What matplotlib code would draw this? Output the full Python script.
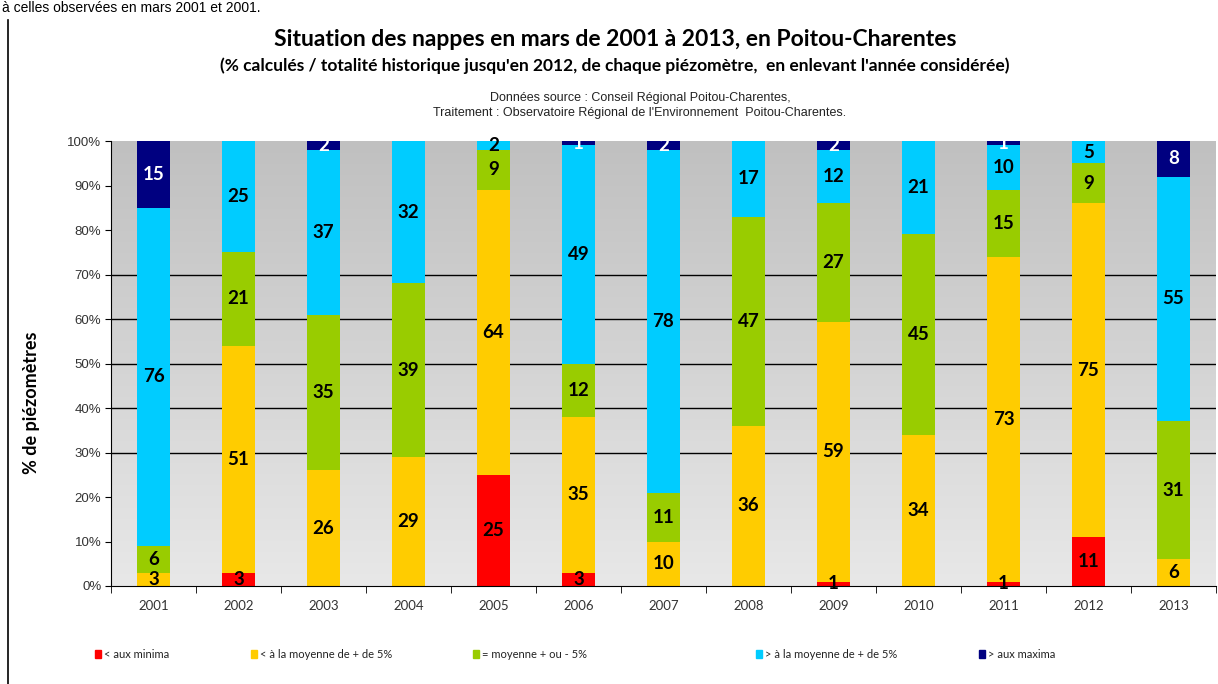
import numpy as np
import matplotlib
matplotlib.use("Agg")
import matplotlib.pyplot as plt
from matplotlib.patches import Rectangle
from matplotlib.colors import LinearSegmentedColormap

years = ["2001", "2002", "2003", "2004", "2005", "2006", "2007",
         "2008", "2009", "2010", "2011", "2012", "2013"]
minima = [0, 3, 0, 0, 25, 3, 0, 0, 1, 0, 1, 11, 0]
sous_moy = [3, 51, 26, 29, 64, 35, 10, 36, 59, 34, 73, 75, 6]
moyenne = [6, 21, 35, 39, 9, 12, 11, 47, 27, 45, 15, 9, 31]
sur_moy = [76, 25, 37, 32, 2, 49, 78, 17, 12, 21, 10, 5, 55]
maxima = [15, 0, 2, 0, 0, 1, 2, 0, 2, 0, 1, 0, 8]

series_labels = ["< aux minima", "< à la moyenne de + de 5%", "= moyenne + ou - 5%",
                 "> à la moyenne de + de 5%", "> aux maxima"]
series_colors = ["#FF0000", "#FFCC00", "#99CC00", "#00CCFF", "#000080"]
label_colors = ["black", "black", "black", "black", "white"]

title = "Situation des nappes en mars de 2001 à 2013, en Poitou-Charentes"
subtitle = "(% calculés / totalité historique jusqu'en 2012, de chaque piézomètre,  en enlevant l'année considérée)"
source1 = "Données source : Conseil Régional Poitou-Charentes,"
source2 = "Traitement : Observatoire Régional de l'Environnement  Poitou-Charentes."
ylabel = "% de piézomètres"
cut_text = "à celles observées en mars 2001 et 2001."

W, H = 1218, 684
fig = plt.figure(figsize=(W / 100, H / 100), dpi=100)
fig.patch.set_facecolor("white")

ax = fig.add_axes([111 / W, 1 - 586 / H, (1216 - 111) / W, (586 - 141) / H])

data = np.array([minima, sous_moy, moyenne, sur_moy, maxima], dtype=float)
pct = data / data.sum(axis=0) * 100
x = np.arange(len(years))

grad = np.linspace(0, 1, 256).reshape(-1, 1)
cmap = LinearSegmentedColormap.from_list("bg", ["#e8e8e8", "#c0c0c0"])
ax.imshow(grad, aspect="auto", cmap=cmap, origin="lower",
          extent=[-0.5, len(years) - 0.5, 0, 100], zorder=0)

for yv in [30, 40, 50, 60, 70]:
    ax.axhline(yv, color="black", lw=1.0, zorder=1)

bottom = np.zeros(len(years))
for i in range(5):
    ax.bar(x, pct[i], 0.39, bottom=bottom, color=series_colors[i], zorder=2, linewidth=0)
    for j in range(len(years)):
        if data[i, j] > 0:
            ax.text(x[j], bottom[j] + pct[i, j] / 2, f"{int(data[i, j])}",
                    ha="center", va="center", fontsize=13.5, fontweight="bold",
                    family="Lato", color=label_colors[i], zorder=3)
    bottom += pct[i]

ax.set_xlim(-0.5, len(years) - 0.5)
ax.set_ylim(0, 100)
ax.set_yticks(np.arange(0, 101, 10))
ax.set_yticklabels([f"{v}%" for v in range(0, 101, 10)], fontsize=9.5,
                   family="Liberation Sans", color="#333333")
ax.set_xticks(x)
ax.set_xticklabels(years, fontsize=9.5, family="Lato", color="#333333")
ax.tick_params(axis="x", which="major", length=0, pad=10)
ax.set_xticks(np.arange(-0.5, len(years), 1), minor=True)
ax.tick_params(axis="x", which="minor", length=5, direction="out", color="black")
ax.tick_params(axis="y", length=4, direction="out", color="black", pad=3)
for s in ["top", "right"]:
    ax.spines[s].set_visible(False)
ax.spines["left"].set_color("black")
ax.spines["bottom"].set_color("black")
ax.spines["left"].set_zorder(4)
ax.spines["bottom"].set_zorder(4)

fig.text(615 / W, 1 - 40 / H, title, ha="center", va="center", fontsize=16.5,
         fontweight="bold", family="Lato")
fig.text(615 / W, 1 - 66 / H, subtitle, ha="center", va="center", fontsize=12.5,
         fontweight="bold", family="Lato")
fig.text(640 / W, 1 - 98 / H, source1, ha="center", va="center", fontsize=9,
         family="Liberation Sans", color="#222222")
fig.text(640 / W, 1 - 113 / H, source2, ha="center", va="center", fontsize=9,
         family="Liberation Sans", color="#222222")
fig.text(32 / W, 1 - 403 / H, ylabel, ha="center", va="center", rotation=90,
         fontsize=13, fontweight="bold", family="Lato")
fig.text(2 / W, 1 - 1 / H, cut_text, ha="left", va="top", fontsize=10,
         family="Liberation Sans", color="black")

fig.add_artist(plt.Line2D([8 / W, 8 / W], [0, 1 - 20 / H], color="black", lw=1.2))

legend_x = [95, 251, 473, 756, 979]
for i in range(5):
    lx = legend_x[i] / W
    ly = 1 - 654 / H
    fig.add_artist(Rectangle((lx, ly - 4 / H), 6 / W, 8 / H, color=series_colors[i],
                             transform=fig.transFigure))
    fig.text(lx + 9 / W, ly, series_labels[i], ha="left", va="center", fontsize=8,
             family="Lato", color="#222222")

fig.savefig("out.png", dpi=100)
